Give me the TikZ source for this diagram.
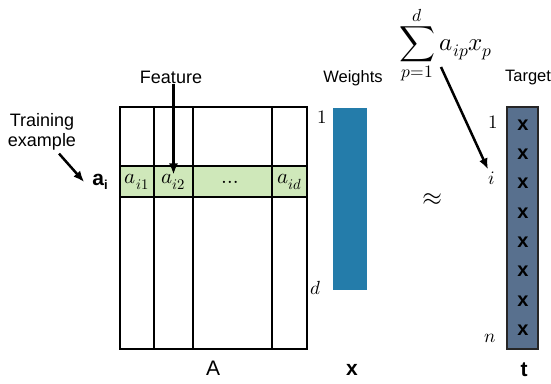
\documentclass[tikz,border=0pt]{standalone}
\usepackage{fontspec}
\usepackage{unicode-math}
\setmathfont{Latin Modern Math}
\setsansfont{Liberation Sans}
\usetikzlibrary{arrows.meta}
\definecolor{rowgreen}{RGB}{207,232,186}
\definecolor{weightblue}{RGB}{36,124,170}
\definecolor{targetslate}{RGB}{88,112,142}

\begin{document}
\begin{tikzpicture}[x=1pt,y=-1pt,>={Latex[length=11pt,width=9pt]},
  lbl/.style={font=\sffamily\fontsize{18}{20}\selectfont,align=center,inner sep=1pt},
  sublbl/.style={font=\sffamily\fontsize{16.5}{19}\selectfont,inner sep=1pt},
  vec/.style={font=\sffamily\bfseries\fontsize{21}{24}\selectfont,inner sep=0pt},
  ent/.style={font=\fontsize{21}{24}\selectfont,inner sep=0pt},
  idx/.style={font=\fontsize{19}{22}\selectfont,inner sep=0pt},
  cross/.style={font=\sffamily\bfseries\fontsize{20}{22}\selectfont,inner sep=0pt},
  grid/.style={line width=1.7pt},
  pointer/.style={->,line width=2.5pt}]
\useasboundingbox (0,0) rectangle (551,383);
% data matrix A, row i highlighted
\fill[rowgreen] (120,166) rectangle (307,197);
\draw[grid] (120,107) rectangle (307,349);
\foreach \cx in {154,193,272} \draw[grid] (\cx,107) -- (\cx,349);
\draw[grid] (120,166) -- (307,166) (120,197) -- (307,197);
\node[ent] (ai1) at (137,182) {$a_{i1}$};
\node[ent] (ai2) at (173.5,182) {$a_{i2}$};
\node[ent] (dots) at (232.5,182) {$\dots$};
\node[ent] (aid) at (289.5,182) {$a_{id}$};
\node[vec] (rowlbl) at (100,182) {a\raisebox{-0.35ex}{\fontsize{13}{14}\selectfont i}};
\node[font=\sffamily\fontsize{21}{24}\selectfont,inner sep=0pt] (alabel) at (213,368) {A};
\node[lbl] (feature) at (171,77) {Feature};
\node[lbl] (train) at (42,132) {Training\\example};
\draw[pointer] (ai2.north |- feature.south) -- (ai2.north);
\draw[pointer] ([xshift=17pt,yshift=-2pt]train.south) -- ([xshift=-8pt]rowlbl.west);
% weights
\node[fill=weightblue,minimum width=34pt,minimum height=182pt,inner sep=0pt] (xbar) at (350,199) {};
\node[sublbl] (weights) at (353,78) {Weights};
\node[idx] (x1) at (322,117) {$1$};
\node[idx] (xd) at (316,288) {$d$};
\node[vec] (xlabel) at (352,370) {x};
% sum and approx
\node[font=\fontsize{25}{29}\selectfont,inner sep=0pt] (sum) at (446,45) {$\displaystyle\sum_{p=1}^{d} a_{ip}x_p$};
\node[font=\fontsize{26}{30}\selectfont,inner sep=0pt] (approx) at (433,200) {$\approx$};
% target
\node[draw=black!85,line width=1.5pt,fill=targetslate,minimum width=31pt,minimum height=242pt,inner sep=0pt] (tbar) at (522.5,228) {};
\foreach \k [evaluate=\k as \ky using 125+29.3*\k] in {0,...,7}
  \node[cross] (tx\k) at (523,\ky) {x};
\node[sublbl] (target) at (528,78) {Target};
\node[idx] (t1) at (493,122) {$1$};
\node[idx] (ti) at (492,178) {$i$};
\node[idx] (tn) at (490,338) {$n$};
\node[vec] (tlabel) at (524,370) {t};
\draw[pointer] ([xshift=-5pt,yshift=17pt]sum.south) -- ([xshift=-4pt,yshift=2pt]ti.north);
\end{tikzpicture}
\end{document}
